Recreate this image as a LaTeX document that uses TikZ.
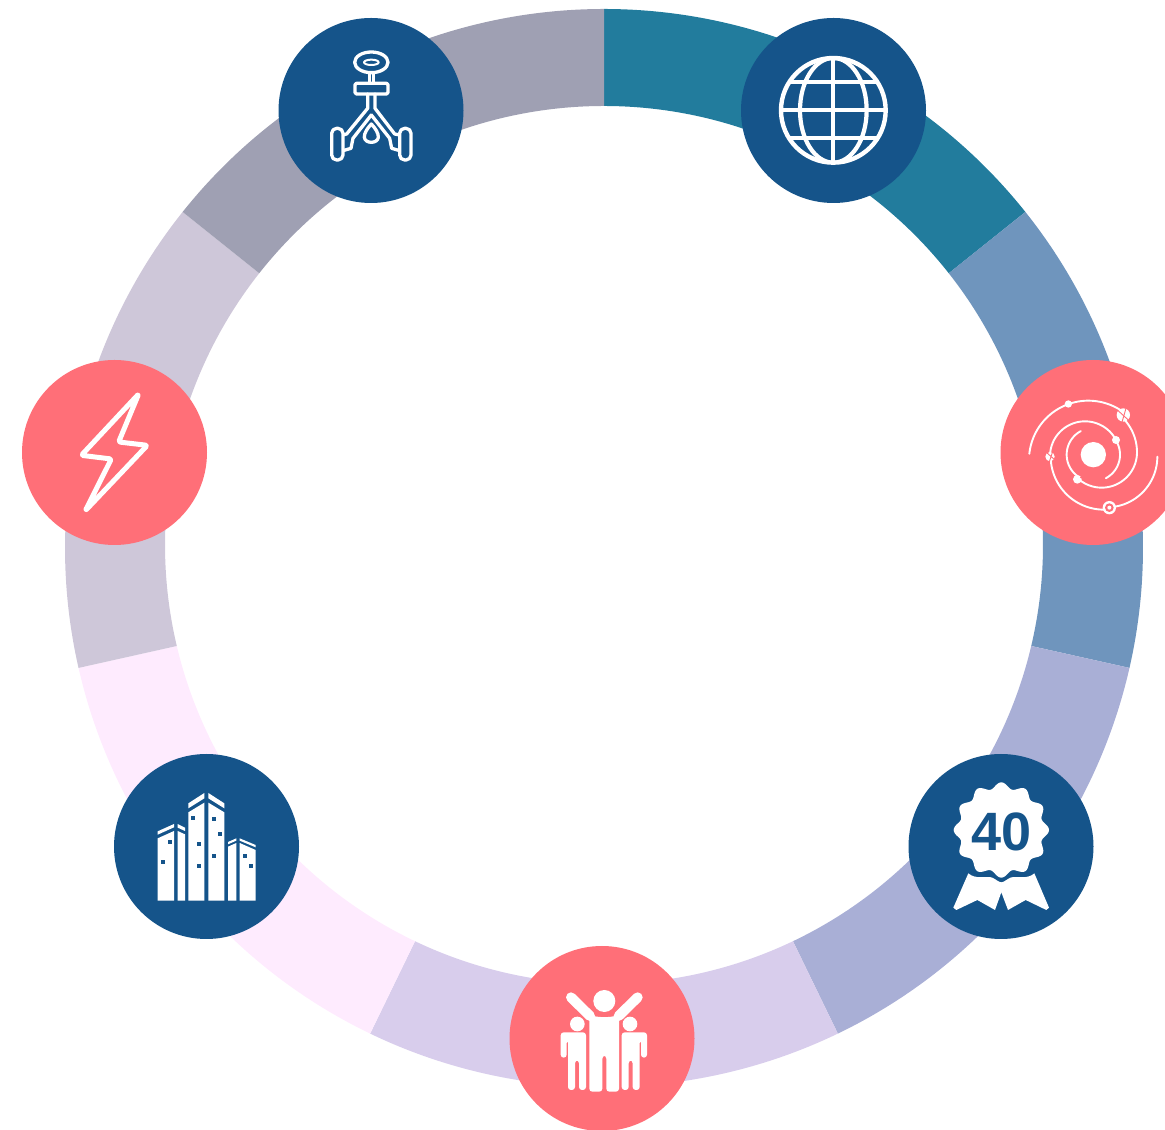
\documentclass[tikz,border=0pt]{standalone}
\usepackage{fontspec}
\setmainfont{Liberation Sans}
\definecolor{discblue}{HTML}{15548A}
\definecolor{discpink}{HTML}{FF6F78}
\definecolor{segA}{HTML}{227C9D}
\definecolor{segB}{HTML}{6F95BD}
\definecolor{segC}{HTML}{A9AFD6}
\definecolor{segD}{HTML}{D8CDEC}
\definecolor{segE}{HTML}{FEEBFE}
\definecolor{segF}{HTML}{CEC7D9}
\definecolor{segG}{HTML}{9FA0B3}
\tikzset{
  disc/.style={circle,minimum size=185pt,inner sep=0pt,draw=none},
  iconline/.style={draw=white,line width=3.3pt,line join=round,line cap=round},
  thinline/.style={draw=white,line width=1.9pt,line cap=round},
  icon/.style={x=0.33333pt,y=-0.33333pt},
}
% outer rim is centred at (604,582), inner rim at (604,585)
\newcommand{\ringseg}[5]{\fill[#1] ($(604,582)+(#2:539)$) arc[start angle=#2,end angle=#3,radius=539] -- ($(604,585)+(#5:439)$) arc[start angle=#5,end angle=#4,radius=439] -- cycle;}
\newcommand{\orbit}[5]{\draw[thinline] plot[domain=#4:#5,samples=50] ({#1+#3*cos(\x)},{#2+#3*sin(\x)});}
\usetikzlibrary{calc}
\begin{document}
\begin{tikzpicture}[x=1pt,y=1pt]
\useasboundingbox (0,0) rectangle (1165,1130);
\clip (0,0) rectangle (1165,1130);
\ringseg{segA}{90}{38.571}{90}{38.25}
\ringseg{segB}{38.571}{-12.857}{38.25}{-13.3}
\ringseg{segC}{-12.857}{-64.286}{-13.3}{-64.5}
\ringseg{segD}{-64.286}{-115.714}{-64.5}{-115.5}
\ringseg{segE}{-115.714}{-167.143}{-115.5}{-166.7}
\ringseg{segF}{-167.143}{-218.571}{-166.7}{-218.25}
\ringseg{segG}{-218.571}{-270}{-218.25}{-270}
\node[disc,fill=discblue] (tripod) at (371,1019.5) {};
\node[disc,fill=discblue] (globe) at (833.5,1019.5) {};
\node[disc,fill=discpink] (solar) at (1093,677.5) {};
\node[disc,fill=discpink] (bolt) at (114.5,677.5) {};
\node[disc,fill=discblue] (towers) at (206.5,283.5) {};
\node[disc,fill=discblue] (badge) at (1001,283.5) {};
\node[disc,fill=discpink] (people) at (602,91.5) {};

% tripod
\begin{scope}[shift={(279,1110)},icon]
\draw[iconline] (277,127) ellipse[x radius=50,y radius=31];
\draw[iconline,line width=2pt] (277,127) ellipse[x radius=22,y radius=8];
\draw[iconline] (271,160) -- (271,190) (283,160) -- (283,190);
\draw[iconline,rounded corners=1.5pt] (228,190) rectangle (327,222);
\draw[iconline] (266,222) -- (266,265) -- (203,342) -- (192,345);
\draw[iconline] (288,222) -- (288,265) -- (347,342) -- (362,345);
\draw[iconline] (277,285) -- (222,355) -- (216,385) -- (192,392);
\draw[iconline] (277,285) -- (332,355) -- (338,385) -- (362,392);
\draw[iconline] (277,312) .. controls (265,325) and (255,340) .. (256,352) .. controls (258,372) and (296,372) .. (298,352) .. controls (299,340) and (289,325) .. (277,312) -- cycle;
\draw[iconline,rounded corners=5pt,fill=discblue] (158,325) rectangle (192,420);
\draw[iconline,rounded corners=5pt,fill=discblue] (362,325) rectangle (396,420);
\end{scope}

% globe
\begin{scope}[shift={(741,1112)},icon]
\draw[iconline,line width=4.4pt] (277,277) circle[radius=157];
\begin{scope}
\clip (277,277) circle[radius=157];
\draw[iconline,line width=4.2pt,line cap=butt] (277,120) -- (277,434) (120,277) -- (434,277);
\draw[iconline,line width=4.2pt] (277,277) ellipse[x radius=100,y radius=157];
\draw[iconline,line width=4.2pt] (130,193) -- (424,193);
\draw[iconline,line width=4.2pt] (130,361) -- (424,361);
\end{scope}
\end{scope}

% solar system
\begin{scope}[shift={(1000,770)},icon]
\fill[white] (280,284) circle[radius=38];
\orbit{280}{284}{80}{-118}{-237}
\orbit{280}{284}{80}{62}{-33}
\orbit{305}{277}{106}{135}{0}
\orbit{265}{277}{146}{0}{-47}
\orbit{255}{289}{105}{-28}{-180}
\orbit{312}{289}{160}{180}{85}
\orbit{320}{290}{152}{0}{87}
\orbit{265}{300}{178}{-174}{-52}
\fill[white] (205,132) circle[radius=11];
\fill[white] (348,240) circle[radius=12];
\fill[white] (232,358) circle[radius=13];
\fill[discpink] (243,352) circle[radius=3];
\fill[white] (370,165) circle[radius=20];
\draw[discpink,line width=0.9pt] (352,150) -- (385,180) (378,145) -- (365,190);
\fill[white] (150,290) circle[radius=14];
\draw[discpink,line width=0.9pt] (140,278) -- (165,300) (158,275) -- (148,305);
\fill[white] (328,443) circle[radius=20];
\fill[discpink] (328,443) circle[radius=13];
\fill[white] (328,443) circle[radius=6];
\end{scope}

% lightning bolt
\begin{scope}[shift={(22,770)},icon]
\draw[iconline,line width=5pt,rounded corners=1.5pt] (350,102) -- (178,286) -- (268,297) -- (190,452) -- (376,256) -- (290,246) -- cycle;
\end{scope}

% towers
\begin{scope}[shift={(115,375)},icon]
\fill[white] (128,250) -- (177,228) -- (177,437) -- (128,437) -- cycle;
\fill[white] (188,228) -- (210,238) -- (210,437) -- (188,437) -- cycle;
\fill[white] (128,229) -- (177,207) -- (177,217) -- (128,239) -- cycle;
\fill[white] (188,207) -- (210,218) -- (210,228) -- (188,218) -- cycle;
\fill[white] (220,172) -- (268,143) -- (268,437) -- (220,437) -- cycle;
\fill[white] (280,143) -- (328,172) -- (328,437) -- (280,437) -- cycle;
\fill[white] (220,145) -- (268,114) -- (268,130) -- (220,160) -- cycle;
\fill[white] (280,114) -- (328,145) -- (328,160) -- (280,130) -- cycle;
\fill[white] (339,275) -- (364,264) -- (364,437) -- (339,437) -- cycle;
\fill[white] (374,264) -- (422,285) -- (422,437) -- (374,437) -- cycle;
\fill[white] (339,261) -- (364,250) -- (364,257) -- (339,268) -- cycle;
\fill[white] (374,250) -- (422,270) -- (422,277) -- (374,257) -- cycle;
\foreach \wx/\wy in {234/188,297/192,314/236,252/267,297/302,252/333,164/260,144/320,390/302,407/334}
  \fill[discblue] (\wx-6,\wy-6) rectangle (\wx+6,\wy+6);
\end{scope}

% badge
\begin{scope}[shift={(909,375)},icon]
\fill[white] plot[domain=0:360,samples=181,smooth] ({277+(134+9*cos(12*\x))*sin(\x)},{225-(134+9*cos(12*\x))*cos(\x)}) -- cycle;
\fill[white,line join=round] (178,355) .. controls (200,375) and (235,362) .. (250,368) .. controls (262,374) and (270,382) .. (277,382) .. controls (284,382) and (292,374) .. (304,368) .. controls (320,362) and (355,375) .. (376,355) -- (420,458) -- (412,465) -- (350,435) -- (297,465) -- (277,412) -- (258,465) -- (205,435) -- (142,465) -- (133,458) -- cycle;
\node[text=discblue,font=\bfseries\fontsize{54}{54}\selectfont,inner sep=0pt] (forty) at (277,232) {40};
\end{scope}

% people
\begin{scope}[shift={(510,185)},icon]
\fill[white] (283,168) circle[radius=33];
\draw[white,line width=10pt,line cap=round] (183,157) -- (240,213) (383,157) -- (326,213);
\fill[white,rounded corners=3pt] (238,240) -- (238,208) .. controls (262,218) and (304,218) .. (327,208) -- (327,240) -- (327,440) -- (289,440) -- (289,332) -- (277,332) -- (277,440) -- (238,440) -- cycle;
\fill[white] (202,237) circle[radius=22];
\fill[white] (360,237) circle[radius=22];
\fill[white,rounded corners=3pt] (152,338) -- (152,262) -- (228,262) -- (228,435) -- (207,435) -- (207,346) -- (195,346) -- (195,435) -- (174,435) -- (174,285) -- (170,285) -- (170,338) -- cycle;
\fill[white,rounded corners=3pt] (411,338) -- (411,262) -- (335,262) -- (335,435) -- (356,435) -- (356,346) -- (368,346) -- (368,435) -- (389,435) -- (389,285) -- (393,285) -- (393,338) -- cycle;
\end{scope}
\end{tikzpicture}
\end{document}
